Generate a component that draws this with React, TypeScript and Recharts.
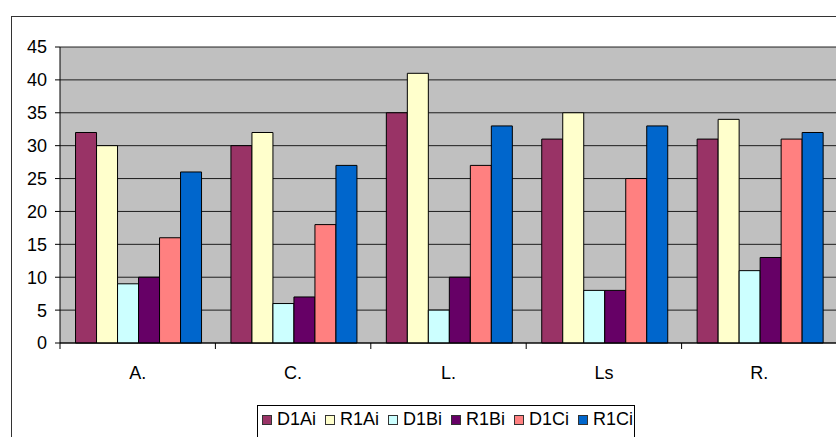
import React from "react";
import { BarChart, Bar, XAxis, YAxis, CartesianGrid } from "recharts";

const categories = ["A.", "C.", "L.", "Ls", "R."];
const D1Ai = [32, 30, 35, 31, 31];
const R1Ai = [30, 32, 41, 35, 34];
const D1Bi = [9, 6, 5, 8, 11];
const R1Bi = [10, 7, 10, 8, 13];
const D1Ci = [16, 18, 27, 25, 31];
const R1Ci = [26, 27, 33, 33, 32];
const yTicks = [0, 5, 10, 15, 20, 25, 30, 35, 40, 45];

const seriesNames = ["D1Ai", "R1Ai", "D1Bi", "R1Bi", "D1Ci", "R1Ci"];
const seriesValues = [D1Ai, R1Ai, D1Bi, R1Bi, D1Ci, R1Ci];
const colors = ["#993366", "#FFFFCC", "#CCFFFF", "#660066", "#FF8080", "#0066CC"];

const data = categories.map((c, i) => {
  const row: Record<string, string | number> = { cat: c };
  seriesNames.forEach((n, k) => {
    row[n] = seriesValues[k][i];
  });
  return row;
});

const CHART_W = 850;
const CHART_H = 437;
const MARGIN = { top: 47, right: 13, bottom: 64, left: 0 };
const Y_W = 60;
const X_H = 30;
const PLOT_LEFT = MARGIN.left + Y_W;
const PLOT_RIGHT = CHART_W - MARGIN.right;
const PLOT_BOTTOM = CHART_H - MARGIN.bottom - X_H;
const BAND = (PLOT_RIGHT - PLOT_LEFT) / categories.length;
const FONT = '"Liberation Sans", Arial, sans-serif';

const XTick = (props: any) => {
  const { x, payload, index } = props;
  const left = x - BAND / 2;
  return (
    <g>
      <line x1={left} x2={left} y1={PLOT_BOTTOM} y2={PLOT_BOTTOM + 6} stroke="#000" />
      {index === categories.length - 1 && (
        <line x1={x + BAND / 2} x2={x + BAND / 2} y1={PLOT_BOTTOM} y2={PLOT_BOTTOM + 6} stroke="#000" />
      )}
      <text x={x} y={PLOT_BOTTOM + 36} textAnchor="middle" fontSize={18} fill="#000" fontFamily={FONT}>
        {payload.value}
      </text>
    </g>
  );
};

export default function App() {
  return (
    <div
      style={{
        position: "absolute",
        left: 0,
        top: 0,
        width: 836,
        height: 437,
        overflow: "hidden",
        background: "#fff",
        fontFamily: FONT,
      }}
    >
      <div
        style={{
          position: "absolute",
          left: 11,
          top: 16,
          width: 900,
          height: 500,
          border: "1px solid #333",
        }}
      />
      <div style={{ position: "absolute", left: 0, top: 0 }}>
        <BarChart
          width={CHART_W}
          height={CHART_H}
          data={data}
          margin={MARGIN}
          barCategoryGap="10%"
          barGap={0}
        >
          <CartesianGrid vertical={false} fill="#C0C0C0" fillOpacity={1} stroke="#000" strokeOpacity={0.85} />
          <XAxis
            dataKey="cat"
            height={X_H}
            axisLine={{ stroke: "#000" }}
            tickLine={false}
            tick={<XTick />}
            interval={0}
          />
          <YAxis
            width={Y_W}
            domain={[0, 45]}
            ticks={yTicks}
            interval={0}
            axisLine={{ stroke: "#000" }}
            tickLine={{ stroke: "#000" }}
            tickSize={5}
            tickMargin={8}
            tick={{ fontSize: 18, fill: "#000", fontFamily: FONT }}
          />
          {seriesNames.map((n, k) => (
            <Bar key={n} dataKey={n} fill={colors[k]} stroke="#000" strokeWidth={1} isAnimationActive={false} />
          ))}
        </BarChart>
      </div>
      <div
        style={{
          position: "absolute",
          left: 257,
          top: 405,
          width: 378,
          height: 40,
          border: "1px solid #000",
          background: "#fff",
          boxSizing: "border-box",
          display: "flex",
          alignItems: "flex-start",
          paddingTop: 3,
          paddingLeft: 4,
          fontSize: 18,
          color: "#000",
          whiteSpace: "nowrap",
        }}
      >
        {seriesNames.map((n, k) => (
          <div key={n} style={{ display: "flex", alignItems: "center", marginRight: 9 }}>
            <span
              style={{
                display: "inline-block",
                width: 8,
                height: 8,
                background: colors[k],
                border: "1px solid #333",
                marginRight: 5,
              }}
            />
            <span>{n}</span>
          </div>
        ))}
      </div>
    </div>
  );
}
